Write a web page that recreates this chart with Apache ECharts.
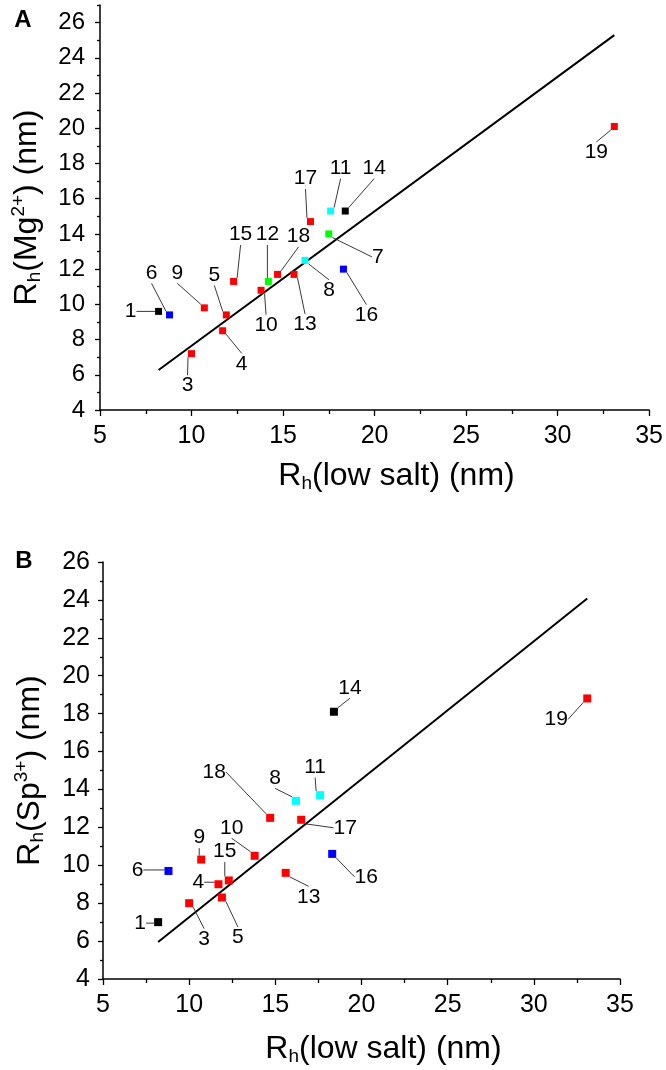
<!DOCTYPE html>
<html><head><meta charset="utf-8">
<script src="https://cdn.jsdelivr.net/npm/echarts@6/dist/echarts.min.js"></script>
<style>html,body{margin:0;padding:0;background:#fff}#c{width:666px;height:1070px}</style>
</head><body><div id="c"></div>
<script>
// ---- data ----
const ids = [1, 3, 4, 5, 6, 7, 8, 9, 10, 11, 12, 13, 14, 15, 16, 17, 18, 19];
const groups = ['k','r','r','r','b','g','c','r','r','c','g','r','k','r','b','r','r','r'];
const lowSalt = [8.2, 10.0, 11.7, 11.9, 8.8, 17.5, 16.2, 10.7, 13.8, 17.6, 14.2, 15.6, 18.4, 12.3, 18.3, 16.5, 14.7, 33.1];
const rhMg =    [9.6, 7.2, 8.5, 9.4, 9.4, 14.0, 12.5, 9.8, 10.8, 15.3, 11.3, 11.7, 15.3, 11.3, 12.0, 14.7, 11.7, 20.1];
const rhSp =    [7.0, 8.0, 9.0, 8.3, 9.7, null, 13.4, 10.3, 10.5, 13.7, null, 9.6, 18.1, 9.2, 10.6, 12.4, 12.5, 18.8];
const fitMgX = [8.2, 33.1];
const fitMgY = [6.27, 25.29];
const fitSpX = [8.2, 33.1];
const fitSpY = [5.95, 24.07];
const xTickValues = [5, 10, 15, 20, 25, 30, 35];
const yTickValues = [4, 6, 8, 10, 12, 14, 16, 18, 20, 22, 24, 26];
const yMinorA = [5, 7, 9, 11, 13, 15, 17, 19, 21, 23, 25, 27];

// ---- style / layout ----
const palette = {k: '#000000', r: '#FF0000', b: '#0000FF', g: '#00FF00', c: '#00FFFF'};
const FONT = '"Liberation Sans", Arial, Helvetica, sans-serif';
// label offsets (px) from each marker, keyed by id
const offA = {1:[-28,0],3:[-4,32],4:[19,33],5:[-12,-40],6:[-18,-42],7:[49,23],8:[24,30],9:[-27,-35],
  10:[5,35],11:[10,-43],12:[-1,-47],13:[11,50],14:[29,-43],15:[7,-47],16:[23,46],17:[-5,-43],18:[21,-38],19:[-18,26]};
const offB = {1:[-18,1],3:[15,36],4:[-20,-2],5:[16,40],6:[-31,-1],8:[-21,-23],9:[-2,-22],10:[-23,-28],
  11:[-5,-28],13:[23,24],14:[16,-24],15:[-4,-29],16:[34,23],17:[44,8],18:[-56,-46],19:[-31,21]};

function pts(yArr) {
  const out = [];
  for (let i = 0; i < ids.length; i++) {
    if (yArr[i] == null) continue;
    out.push({name: String(ids[i]), value: [lowSalt[i], yArr[i]], itemStyle: {color: palette[groups[i]], opacity: 1}});
  }
  return out;
}
function nameRich(size) {
  return {
    r: {fontSize: size, fontFamily: FONT, color: '#000'},
    sub: {fontSize: Math.round(size * 0.6), fontFamily: FONT, color: '#000', padding: [Math.round(size*0.45), 0, 0, 0]},
    sup: {fontSize: Math.round(size * 0.6), fontFamily: FONT, color: '#000', padding: [0, 0, Math.round(size*0.55), 0]}
  };
}
function xAxisCfg(grid, fs, gap, nameSize) {
  return {
    type: 'value', gridIndex: grid, min: 5, max: 35, interval: 5,
    name: '{r|R}{sub|h}{r|(low salt) (nm)}', nameLocation: 'middle', nameGap: gap,
    nameTextStyle: {rich: nameRich(nameSize), padding: [0, 0, 0, 44]},
    axisLine: {onZero: false, lineStyle: {color: '#000', width: 1.5}},
    axisTick: {show: true, length: 6, lineStyle: {color: '#000', width: 1.3}},
    minorTick: {show: true, splitNumber: 2, length: 4, lineStyle: {color: '#000', width: 1.3}},
    axisLabel: {color: '#000', fontSize: fs, fontFamily: FONT, margin: 14},
    splitLine: {show: false}
  };
}
function scatterSeries(xi, yi, data, offs, size, fs) {
  return {
    type: 'scatter', xAxisIndex: xi, yAxisIndex: yi, data: data,
    symbol: 'rect', symbolSize: size,
    itemStyle: {opacity: 1},
    label: {show: true, position: 'inside', formatter: '{b}', color: '#000', fontSize: fs, fontFamily: FONT,
      textBorderWidth: 0, textBorderColor: 'transparent', opacity: 1},
    labelLayout: function (p) {
      const id = data[p.dataIndex].name;
      const o = offs[id] || [0, 0];
      return {dx: o[0], dy: o[1]};
    },
    labelLine: {show: true, length2: 0, lineStyle: {color: '#222', width: 0.9, opacity: 1}},
    emphasis: {disabled: true},
    z: 3
  };
}

const dataA = pts(rhMg);
const dataB = pts(rhSp);

const chart = echarts.init(document.getElementById('c'), null, {renderer: 'canvas'});
chart.setOption({
  animation: false,
  backgroundColor: '#fff',
  grid: [
    {left: 100, right: 14, top: 5, height: 405},
    {left: 103, right: 46, top: 562, height: 417}
  ],
  xAxis: [xAxisCfg(0, 25, 50, 32), xAxisCfg(1, 25, 54, 32)],
  yAxis: [
    {type: 'value', gridIndex: 0, position: 'left', min: 4, max: 27, interval: 1,
      name: '{r|R}{sub|h}{r|(Mg}{sup|2+}{r|) (nm)}', nameLocation: 'middle', nameGap: 54,
      nameTextStyle: {rich: nameRich(32)},
      axisLine: {onZero: false, lineStyle: {color: '#000', width: 1.5}},
      axisTick: {show: true, length: 5, customValues: yTickValues, lineStyle: {color: '#000', width: 1.3}},
      axisLabel: {color: '#000', fontSize: 24, fontFamily: FONT, margin: 15, customValues: yTickValues},
      splitLine: {show: false}},
    {type: 'value', gridIndex: 0, position: 'left', min: 4, max: 27, interval: 1,
      axisLine: {show: false},
      axisTick: {show: true, length: 3, customValues: yMinorA, lineStyle: {color: '#000', width: 1.3}},
      axisLabel: {show: false}, splitLine: {show: false}},
    {type: 'value', gridIndex: 1, position: 'left', min: 4, max: 26, interval: 2,
      name: '{r|R}{sub|h}{r|(Sp}{sup|3+}{r|) (nm)}', nameLocation: 'middle', nameGap: 54,
      nameTextStyle: {rich: nameRich(32)},
      axisLine: {onZero: false, lineStyle: {color: '#000', width: 1.5}},
      axisTick: {show: true, length: 5, lineStyle: {color: '#000', width: 1.3}},
      minorTick: {show: true, splitNumber: 2, length: 3, lineStyle: {color: '#000', width: 1.3}},
      axisLabel: {color: '#000', fontSize: 25, fontFamily: FONT, margin: 13},
      splitLine: {show: false}}
  ],
  series: [
    {type: 'line', xAxisIndex: 0, yAxisIndex: 0, data: fitMgX.map((x, i) => [x, fitMgY[i]]),
      symbol: 'none', lineStyle: {color: '#000', width: 2}, z: 2, silent: true},
    scatterSeries(0, 0, dataA, offA, 7, 21),
    {type: 'line', xAxisIndex: 1, yAxisIndex: 2, data: fitSpX.map((x, i) => [x, fitSpY[i]]),
      symbol: 'none', lineStyle: {color: '#000', width: 2}, z: 2, silent: true},
    scatterSeries(1, 2, dataB, offB, 8, 21)
  ],
  graphic: [
    {type: 'text', x: 23, y: 20, style: {text: 'A', font: 'bold 24px ' + FONT, fill: '#000', textAlign: 'center', textVerticalAlign: 'middle'}},
    {type: 'text', x: 24, y: 561, style: {text: 'B', font: 'bold 24px ' + FONT, fill: '#000', textAlign: 'center', textVerticalAlign: 'middle'}}
  ]
});
</script></body></html>
